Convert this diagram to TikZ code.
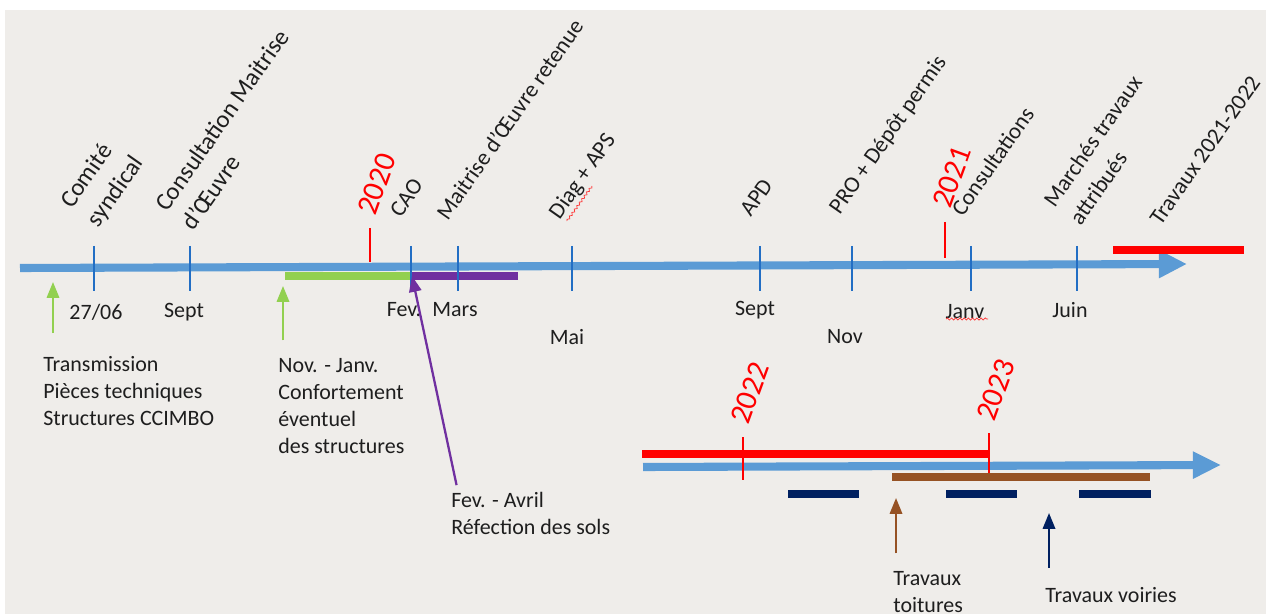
\documentclass[tikz,border=0pt]{standalone}
\usepackage{fontspec}
\setmainfont{Carlito}
\usetikzlibrary{arrows.meta,positioning,decorations.pathmorphing}
\definecolor{fond}{RGB}{239,237,234}
\definecolor{axe}{RGB}{91,155,213}
\definecolor{trait}{RGB}{34,110,196}
\definecolor{vert}{RGB}{146,208,80}
\definecolor{violet}{RGB}{112,48,160}
\definecolor{brun}{RGB}{150,82,36}
\definecolor{marine}{RGB}{0,32,96}
\definecolor{texte}{RGB}{30,30,30}
\tikzset{
  jalon/.style={rotate=55,anchor=south west,inner sep=0pt,align=left,text=texte,font=\fontsize{13}{18}\selectfont},
  grandjalon/.style={jalon,font=\fontsize{14}{18.5}\selectfont},
  annee/.style={rotate=70,inner sep=0pt,text=red,font=\fontsize{17.5}{20}\selectfont},
  mois/.style={inner sep=0pt,text=texte,font=\fontsize{12.5}{15.4}\selectfont},
  note/.style={mois,anchor=north west,align=left},
  fleche/.style={-{Triangle[length=9pt,width=7pt]},line width=1.3pt},
  barre/.style={line width=5pt},
  axefleche/.style={axe,line width=4.6pt,-{Triangle[length=16pt,width=15pt]}},
  souligne/.style={red!80,line width=0.4pt,decorate,decoration={snake,amplitude=0.6pt,segment length=2.4pt}}
}
\begin{document}
\begin{tikzpicture}[x=0.02cm,y=-0.02cm]
    \fill[white] (0,0) rectangle (1266,614);
    \fill[fond] (5,10) rectangle (1266,614);
    \useasboundingbox (0,0) rectangle (1266,614);
    % axe 2019-2021
    \coordinate (debut) at (20,268);
    \coordinate (fin) at (1187,264);
    \draw[vert,barre] (285,276) -- (411,276);
    \draw[violet,barre] (411,276) -- (518,276);
    \draw[axefleche] (debut) -- (fin);
    \draw[red,barre] (1113,250) -- (1244,250);
    \foreach \x/\lx/\ly/\lbl [count=\i] in {94/96/312/{27/06}, 190/184/312/Sept, 411/404/310/Fev., 458/455/310/Mars, 572/567/337/Mai, 760/755/310/Sept, 852/845/337/Nov, 971/965/312/Janv, 1077/1070/310/Juin} {
        \draw[trait,line width=1.1pt] (\x,246) -- (\x,291);
        \node[mois] (m\i) at (\lx,\ly) {\lbl};
    }
    \draw[souligne] (946,319) -- (988,319);
    \draw[red,line width=0.8pt] (370,228) -- (370,262);
    \draw[red,line width=0.8pt] (945,222) -- (945,258);
    \node[annee] (a2020) at (377,184) {2020};
    \node[annee] (a2021) at (952,177) {2021};
    % jalons
    \node[grandjalon] (comite) at (102,231) {Comité\\syndical};
    \node[grandjalon] (consult) at (194,232) {Consultation Maitrise\\d’Œuvre};
    \node[jalon] (cao) at (401,219) {CAO};
    \node[jalon] (moe) at (448,222) {Maitrise d’Œuvre retenue};
    \node[jalon] (diag) at (563,223) {Diag + APS};
    \draw[souligne] (567,221) -- (592,186);
    \node[jalon] (apd) at (751,218) {APD};
    \node[jalon] (pro) at (843,218) {PRO + Dépôt permis};
    \node[jalon] (consultations) at (963,218) {Consultations};
    \node[jalon] (marches) at (1081,227) {Marchés travaux\\attribués};
    \node[jalon] (travaux) at (1161,227) {Travaux 2021-2022};
    % notes du haut
    \node[note] (transmission) at (43,356) {Transmission\\Pièces techniques\\Structures CCIMBO};
    \node[note] (confort) at (278,358) {Nov. - Janv.\\Confortement\\éventuel\\des structures};
    \node[note] (sols) at (451,492) {Fev. - Avril\\Réfection des sols};
    \coordinate (g1) at (53,282);
    \coordinate (g2) at (283,286);
    \coordinate (v1) at (412,276);
    \draw[fleche,vert,shorten <=13pt] (g1 |- transmission.north) -- (g1);
    \draw[fleche,vert,shorten <=10pt] (g2 |- confort.north) -- (g2);
    \draw[fleche,violet,shorten <=4pt] ([xshift=4pt]sols.north west) -- (v1);
    % axe 2022-2023
    \draw[red,barre] (642,454) -- (989,454);
    \draw[axefleche,-{Triangle[length=16pt,width=14.5pt]}] (643,467) -- (1221,465);
    \draw[red,line width=0.8pt] (743,437) -- (743,480);
    \draw[red,line width=0.8pt] (989,433) -- (989,474);
    \node[annee] (a2022) at (750,393) {2022};
    \node[annee] (a2023) at (996,390) {2023};
    \draw[brun,barre] (892,477) -- (1150,477);
    \foreach \a/\b in {788/859, 946/1017, 1079/1151}
        \draw[marine,barre] (\a,494) -- (\b,494);
    \node[note] (toit) at (893,571) {Travaux\\toitures};
    \node[note] (voiries) at (1045,587) {Travaux voiries};
    \coordinate (b1) at (896,498);
    \coordinate (n1) at (1049,513);
    \draw[fleche,brun,shorten <=10pt] (b1 |- toit.north) -- (b1);
    \draw[fleche,marine,shorten <=11pt] (n1 |- voiries.north) -- (n1);
\end{tikzpicture}
\end{document}
